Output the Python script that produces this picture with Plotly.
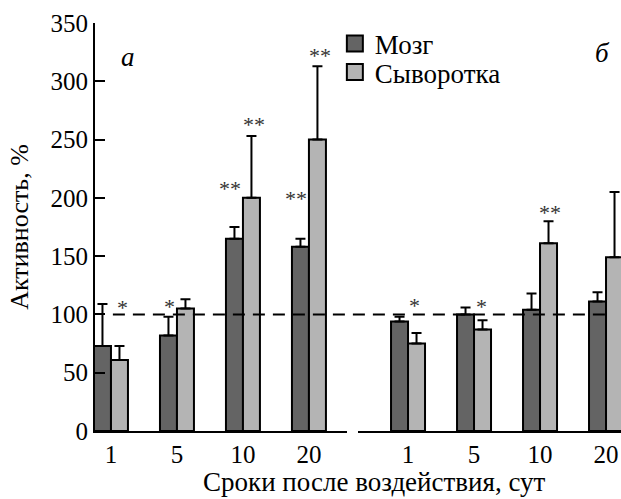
import plotly.graph_objects as go

# ---- data ----
days = ["1", "5", "10", "20"]
xpos = [0, 1, 2, 3]

# panel а
brain_a = [73, 82, 165, 158]
brain_a_err = [36, 16, 10, 7]
serum_a = [61, 105, 200, 250]
serum_a_err = [12, 8, 53, 63]

# panel б
brain_b = [94, 100, 104, 111]
brain_b_err = [4, 6, 14, 8]
serum_b = [75, 87, 161, 149]
serum_b_err = [9, 8, 19, 56]

# significance marks: (axis, group index, offset, label, level)
stars = [
    ("x", 0, 0.17, "*", 110),
    ("x", 1, -0.12, "*", 111),
    ("x", 2, -0.20, "**", 212),
    ("x", 2, 0.17, "**", 267),
    ("x", 3, -0.20, "**", 204),
    ("x", 3, 0.17, "**", 326),
    ("x2", 0, 0.10, "*", 112),
    ("x2", 1, 0.12, "*", 111),
    ("x2", 2, 0.15, "**", 192),
]

reference_level = 100

DARK = "#646464"
LIGHT = "#b4b4b4"
FONT = "Liberation Serif, Times New Roman, serif"

fig = go.Figure()


def add_bars(xa, vals, errs, color, name):
    fig.add_trace(go.Bar(
        x=xpos, y=vals, xaxis=xa, yaxis="y", name=name, showlegend=False,
        offsetgroup=name,
        marker=dict(color=color, line=dict(color="black", width=2)),
        error_y=dict(type="data", symmetric=False, array=errs,
                     arrayminus=[0] * len(errs), color="black",
                     thickness=2, width=5),
    ))


add_bars("x", brain_a, brain_a_err, DARK, "Мозг")
add_bars("x", serum_a, serum_a_err, LIGHT, "Сыворотка")
add_bars("x2", brain_b, brain_b_err, DARK, "Мозг")
add_bars("x2", serum_b, serum_b_err, LIGHT, "Сыворотка")

# legend entries (one legend each, for exact row spacing)
for name, color, lg in [("Мозг", DARK, "legend"), ("Сыворотка", LIGHT, "legend2")]:
    fig.add_trace(go.Scatter(
        x=[None], y=[None], mode="markers", name=name, xaxis="x", yaxis="y",
        legend=lg,
        marker=dict(symbol="square", size=16, color=color,
                    line=dict(color="black", width=2)),
    ))

annotations = []
for xa, g, off, lab, lvl in stars:
    annotations.append(dict(
        x=xpos[g] + off, y=lvl, xref=xa, yref="y", text=lab, showarrow=False,
        font=dict(family=FONT, size=22, color="#333333"),
        xanchor="center", yanchor="middle", yshift=-5,
    ))

annotations += [
    dict(x=0.13, y=0.917, xref="x domain", yref="paper", text="<i>а</i>",
         showarrow=False, font=dict(family=FONT, size=27, color="black"),
         xanchor="center", yanchor="middle"),
    dict(x=0.93, y=0.926, xref="x2 domain", yref="paper", text="<i>б</i>",
         showarrow=False, font=dict(family=FONT, size=27, color="black"),
         xanchor="center", yanchor="middle"),
    dict(x=0.532, y=-(482 - 431) / 408, xref="paper", yref="paper",
         text="Сроки после воздействия, сут", showarrow=False,
         font=dict(family=FONT, size=27, color="black"),
         xanchor="center", yanchor="middle", borderpad=0),
]

leg_common = dict(xanchor="left", yanchor="middle", bgcolor="rgba(0,0,0,0)",
                  font=dict(family=FONT, size=27, color="black"))

fig.update_layout(
    width=621, height=499,
    margin=dict(l=95, r=0, t=23, b=68),
    paper_bgcolor="white", plot_bgcolor="white",
    barmode="group", bargap=0.485, bargroupgap=0,
    font=dict(family=FONT, size=25, color="black"),
    showlegend=True,
    legend=dict(x=0.456, y=(431 - 44) / 408, **leg_common),
    legend2=dict(x=0.456, y=(431 - 72.5) / 408, **leg_common),
    annotations=annotations,
    shapes=[dict(type="line", xref="paper", yref="y", x0=0.034, x1=0.983,
                 y0=reference_level, y1=reference_level,
                 line=dict(color="black", width=2, dash="12px,8px"))],
    xaxis=dict(domain=[0, 0.479], range=[-0.242, 3.576], tickvals=xpos,
               ticktext=days, showline=True, linecolor="black", linewidth=2,
               ticks="", showgrid=False, zeroline=False, anchor="y",
               tickfont=dict(family=FONT, size=25)),
    xaxis2=dict(domain=[0.5, 1], range=[-0.758, 3.227], tickvals=xpos,
                ticktext=days, showline=True, linecolor="black", linewidth=2,
                ticks="", showgrid=False, zeroline=False, anchor="y",
                tickfont=dict(family=FONT, size=25)),
    yaxis=dict(range=[0, 350], tickvals=[0, 50, 100, 150, 200, 250, 300, 350],
               showline=True, linecolor="black", linewidth=2,
               ticks="inside", ticklen=10, tickwidth=2, tickcolor="black",
               showgrid=False, zeroline=False,
               title=dict(text="Активность, %", standoff=14,
                          font=dict(family=FONT, size=26)),
               tickfont=dict(family=FONT, size=25)),
)

fig.write_html("out.html", config={"displayModeBar": False},
               post_script="document.body.style.margin='0';")
